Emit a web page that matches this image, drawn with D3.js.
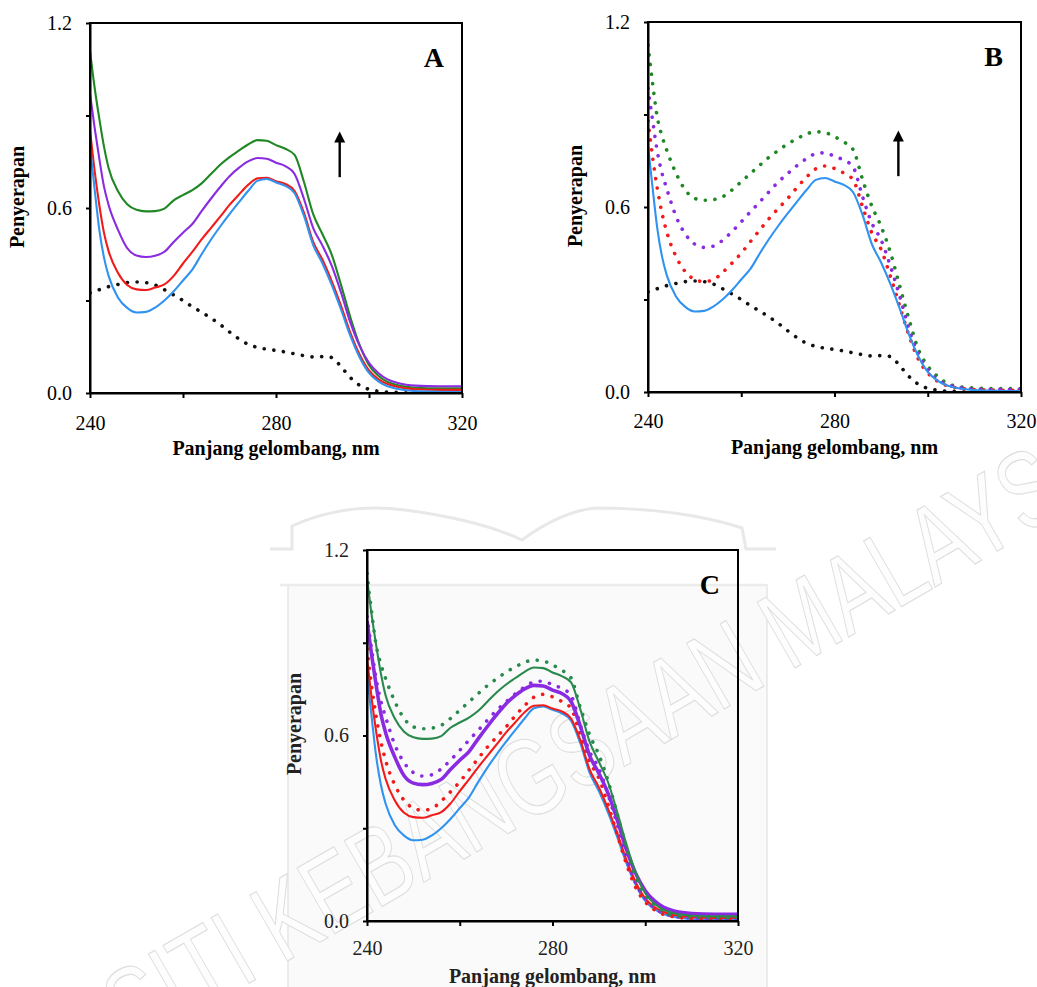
<!DOCTYPE html>
<html>
<head>
<meta charset="utf-8">
<script src="https://cdn.jsdelivr.net/npm/d3@7"></script>
<style>
  html, body { margin: 0; padding: 0; background: #fff; }
  svg { display: block; }
</style>
</head>
<body>
<svg id="fig" width="1037" height="987"></svg>
<script>
// Wavelength grid (nm)
const wavelength = [240, 241, 242, 243, 244, 246, 248, 250, 252, 254, 256, 258, 260, 262, 264, 266, 268, 270,
  272, 274, 276, 278, 280, 282, 284, 286, 288, 290, 292, 294, 296, 298, 300, 302, 304, 306, 308, 310, 315, 320];

// Protein alone (blue)
const protein = [0.80, 0.66, 0.53, 0.44, 0.38, 0.31, 0.276, 0.261, 0.263, 0.277, 0.30, 0.33, 0.365, 0.40, 0.45, 0.497,
  0.54, 0.58, 0.618, 0.655, 0.688, 0.694, 0.683, 0.672, 0.648, 0.575, 0.48, 0.42, 0.35, 0.27, 0.185, 0.115, 0.065,
  0.038, 0.022, 0.014, 0.009, 0.006, 0.004, 0.003];

// Ligand alone (black dotted)
const ligand = [0.325, 0.33, 0.335, 0.34, 0.345, 0.352, 0.358, 0.36, 0.358, 0.35, 0.335, 0.318, 0.30, 0.28, 0.262,
  0.243, 0.222, 0.198, 0.176, 0.158, 0.148, 0.142, 0.138, 0.133, 0.127, 0.121, 0.117, 0.118, 0.115, 0.085, 0.05,
  0.025, 0.012, 0.006, 0.003, 0.002, 0.001, 0.001, null, null];

// Measured complex spectra, increasing ligand (solid red, purple, green)
const measuredLow = [0.85, 0.72, 0.61, 0.52, 0.46, 0.39, 0.35, 0.336, 0.334, 0.342, 0.352, 0.38, 0.42, 0.458, 0.498,
  0.535, 0.572, 0.61, 0.643, 0.675, 0.696, 0.698, 0.687, 0.678, 0.655, 0.585, 0.49, 0.432, 0.362, 0.282, 0.195,
  0.124, 0.073, 0.045, 0.029, 0.02, 0.015, 0.012, 0.01, 0.01];
const measuredMid = [0.97, 0.86, 0.76, 0.67, 0.61, 0.53, 0.47, 0.446, 0.441, 0.445, 0.458, 0.49, 0.52, 0.548, 0.59,
  0.63, 0.668, 0.703, 0.73, 0.751, 0.762, 0.76, 0.747, 0.736, 0.71, 0.63, 0.535, 0.478, 0.412, 0.325, 0.228,
  0.152, 0.098, 0.065, 0.044, 0.033, 0.027, 0.024, 0.022, 0.022];
const measuredHigh = [1.11, 0.99, 0.89, 0.80, 0.73, 0.655, 0.612, 0.594, 0.589, 0.59, 0.598, 0.625, 0.642, 0.658,
  0.68, 0.71, 0.74, 0.765, 0.786, 0.806, 0.82, 0.818, 0.804, 0.792, 0.772, 0.685, 0.58, 0.515, 0.448, 0.35, 0.245,
  0.155, 0.09, 0.056, 0.036, 0.026, 0.02, 0.017, 0.015, 0.015];

// Summed spectra, protein + ligand (dotted red, purple, green)
const summedLow = [0.88, 0.76, 0.66, 0.58, 0.52, 0.44, 0.39, 0.365, 0.358, 0.364, 0.388, 0.418, 0.45, 0.488, 0.526,
  0.563, 0.596, 0.628, 0.664, 0.697, 0.724, 0.733, 0.725, 0.71, 0.688, 0.602, 0.516, 0.462, 0.375, 0.278, 0.182,
  0.106, 0.062, 0.036, 0.021, 0.014, 0.01, 0.008, 0.006, 0.005];
const summedMid = [0.985, 0.88, 0.78, 0.71, 0.66, 0.57, 0.512, 0.48, 0.469, 0.473, 0.492, 0.52, 0.552, 0.585, 0.617,
  0.65, 0.682, 0.709, 0.735, 0.757, 0.773, 0.776, 0.764, 0.752, 0.73, 0.634, 0.548, 0.493, 0.408, 0.31, 0.203,
  0.122, 0.073, 0.041, 0.025, 0.016, 0.012, 0.01, 0.008, 0.008];
const summedHigh = [1.125, 1.0, 0.89, 0.83, 0.785, 0.71, 0.655, 0.628, 0.622, 0.624, 0.633, 0.655, 0.682, 0.709,
  0.736, 0.762, 0.784, 0.805, 0.822, 0.837, 0.844, 0.841, 0.828, 0.811, 0.786, 0.69, 0.603, 0.537, 0.452, 0.343,
  0.235, 0.138, 0.084, 0.052, 0.03, 0.019, 0.015, 0.013, 0.011, 0.011];

// Axis ticks
const xTicks = [240, 260, 280, 300, 320];
const xTickLabels = ["240", "", "280", "", "320"];
const yTicks = [0, 0.3, 0.6, 0.9, 1.2];
const yTickLabels = ["0.0", "", "0.6", "", "1.2"];

// Text
const xTitle = "Panjang gelombang, nm";
const yTitle = "Penyerapan";
const panelLetters = ["A", "B", "C"];
const watermarkText = "UNIVERSITI KEBANGSAAN MALAYSIA";

// Increase arrow (wavelength, from, to)
const arrowNm = 293.7, arrowFrom = 0.70, arrowTo = 0.848;

const COL = { blue: "#2f93ef", red: "#f21b1b", purple: "#8a2be2", green: "#1f8723", black: "#111" };
const SERIF = "'Liberation Serif', 'Times New Roman', serif";

const svg = d3.select("#fig");

// ---------- faint background emblem and watermark ----------
const wm = svg.append("g").attr("fill", "none");
wm.append("rect").attr("x", 288).attr("y", 585).attr("width", 479).attr("height", 420)
  .attr("fill", "#fafafa").attr("stroke", "#e6e6e6").attr("stroke-width", 1.5);
wm.append("path").attr("stroke-width", 3).attr("stroke", "#e8e8e8")
  .attr("d", "M270,549 L292,549 L292,526 Q345,502 405,510 Q480,520 522,540 Q560,512 595,508 Q680,508 742,528 L746,549 L776,549");
wm.append("line").attr("x1", 280).attr("x2", 764).attr("y1", 585).attr("y2", 585)
  .attr("stroke-width", 2.5).attr("stroke", "#ececec");

wm.append("text")
  .attr("transform", "translate(-135,1205) rotate(-30)")
  .attr("font-family", "'Liberation Sans', Arial, sans-serif")
  .attr("font-size", 110)
  .attr("textLength", 1470)
  .attr("lengthAdjust", "spacingAndGlyphs")
  .attr("stroke", "#dedede")
  .attr("stroke-width", 1.2)
  .attr("fill", "#fdfdfd")
  .text(watermarkText);

// ---------- panels ----------
const panels = [
  { box: [90, 23, 462, 393], letter: panelLetters[0], arrow: true, ink: "#000", xPad: 18,
    series: [
      { v: ligand, c: COL.black, dot: true },
      { v: measuredHigh, c: COL.green },
      { v: measuredMid, c: COL.purple },
      { v: measuredLow, c: COL.red },
      { v: protein, c: COL.blue }
    ] },
  { box: [648, 22, 1021, 392], letter: panelLetters[1], arrow: true, ink: "#000", xPad: 17,
    series: [
      { v: ligand, c: COL.black, dot: true },
      { v: summedHigh, c: COL.green, dot: true },
      { v: summedMid, c: COL.purple, dot: true },
      { v: summedLow, c: COL.red, dot: true },
      { v: protein, c: COL.blue }
    ] },
  { box: [367, 550, 738, 921], letter: panelLetters[2], arrow: false, ink: "#222", xPad: 15,
    series: [
      { v: protein, c: COL.blue },
      { v: measuredLow, c: COL.red },
      { v: summedLow, c: COL.red, dot: true },
      { v: measuredMid, c: COL.purple, w: 3.6 },
      { v: summedMid, c: COL.purple, dot: true },
      { v: measuredHigh, c: "#2a8a4e" },
      { v: summedHigh, c: "#2a8a4e", dot: true }
    ] }
];

panels.forEach((p, pi) => {
  const [x0, y0, x1, y1] = p.box;
  const x = d3.scaleLinear().domain([240, 320]).range([x0, x1]);
  const y = d3.scaleLinear().domain([0, 1.2]).range([y1, y0]);
  const g = svg.append("g");

  const clipId = "clip" + pi;
  g.append("clipPath").attr("id", clipId)
    .append("rect").attr("x", x0).attr("y", y0 - 2).attr("width", x1 - x0).attr("height", y1 - y0 + 2);

  const line = d3.line()
    .defined(d => d[1] != null)
    .x(d => x(d[0])).y(d => y(d[1]))
    .curve(d3.curveMonotoneX);

  const lines = g.append("g").attr("clip-path", `url(#${clipId})`);
  p.series.forEach(s => {
    const pts = wavelength.map((w, i) => [w, s.v[i]]);
    const path = lines.append("path")
      .attr("d", line(pts))
      .attr("fill", "none")
      .attr("stroke", s.c);
    if (s.dot) {
      path.attr("stroke-width", 3.6)
        .attr("stroke-linecap", "round")
        .attr("stroke-dasharray", "0.1 9.6");
    } else {
      path.attr("stroke-width", s.w || 2.1).attr("stroke-linejoin", "round");
    }
  });

  // axes
  const xAxis = d3.axisBottom(x).tickValues(xTicks).tickSize(5).tickSizeOuter(0)
    .tickPadding(p.xPad).tickFormat((d, i) => xTickLabels[i]);
  const yAxis = d3.axisLeft(y).tickValues(yTicks).tickSize(4).tickSizeOuter(0)
    .tickPadding(14).tickFormat((d, i) => yTickLabels[i]);

  const gx = g.append("g").attr("transform", `translate(0,${y1})`).call(xAxis);
  const gy = g.append("g").attr("transform", `translate(${x0},0)`).call(yAxis);
  [gx, gy].forEach(a => {
    a.selectAll("path, line").attr("stroke", "#000").attr("stroke-width", 2);
    a.selectAll("text").attr("font-family", SERIF).attr("font-size", 20).attr("fill", p.ink);
  });

  // frame
  g.append("rect").attr("x", x0).attr("y", y0).attr("width", x1 - x0).attr("height", y1 - y0)
    .attr("fill", "none").attr("stroke", "#000").attr("stroke-width", 2);

  // titles
  g.append("text")
    .attr("x", (x0 + x1) / 2).attr("y", y1 + 62)
    .attr("text-anchor", "middle")
    .attr("font-family", SERIF).attr("font-weight", "bold").attr("font-size", 20)
    .attr("fill", p.ink)
    .text(xTitle);
  g.append("text")
    .attr("transform", `translate(${x0 - 66},${y0 + 174}) rotate(-90)`)
    .attr("text-anchor", "middle")
    .attr("font-family", SERIF).attr("font-weight", "bold").attr("font-size", 20)
    .attr("fill", p.ink)
    .text(yTitle);

  // panel letter
  g.append("text")
    .attr("x", x1 - 18).attr("y", y0 + 44)
    .attr("text-anchor", "end")
    .attr("font-family", SERIF).attr("font-weight", "bold").attr("font-size", 28)
    .attr("fill", "#000")
    .text(p.letter);

  // increase arrow
  if (p.arrow) {
    const ax = x(arrowNm), ya = y(arrowFrom), yb = y(arrowTo);
    g.append("line").attr("x1", ax).attr("x2", ax).attr("y1", ya).attr("y2", yb + 9)
      .attr("stroke", "#000").attr("stroke-width", 2.4);
    g.append("path")
      .attr("d", `M${ax},${yb} L${ax - 5.5},${yb + 11} L${ax + 5.5},${yb + 11} Z`)
      .attr("fill", "#000");
  }
});
</script>
</body>
</html>
